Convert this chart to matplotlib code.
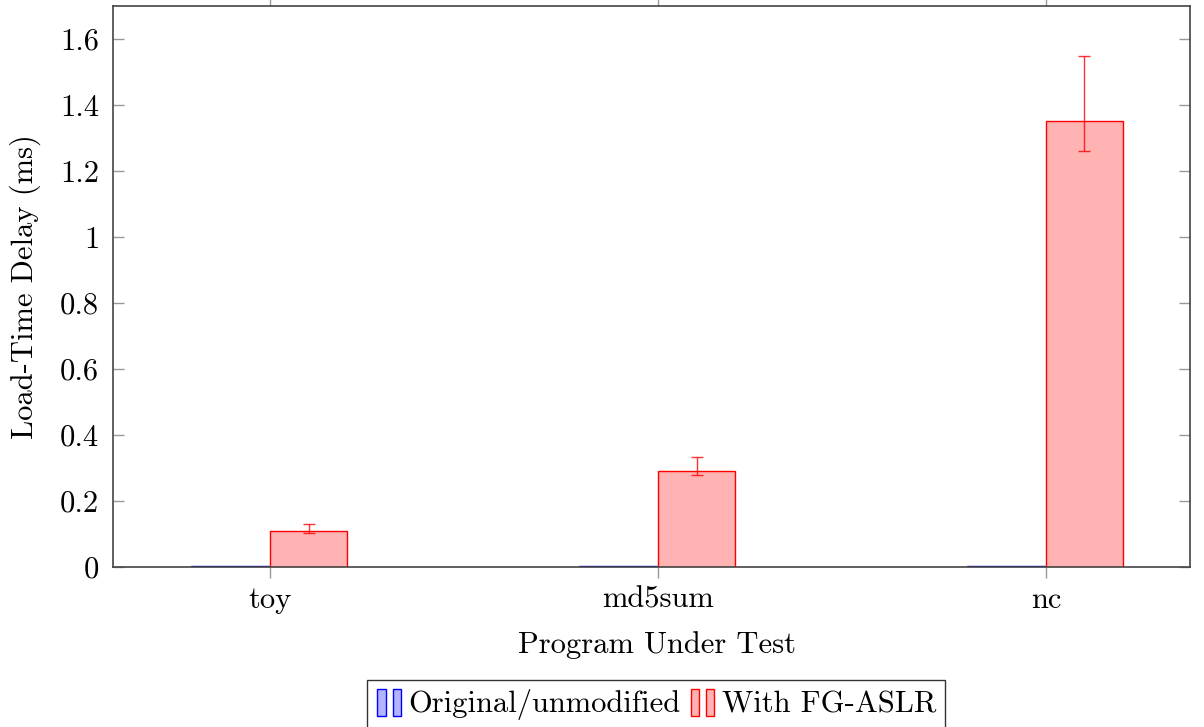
import numpy as np
import matplotlib.pyplot as plt
from matplotlib.patches import Rectangle
from matplotlib.legend_handler import HandlerBase
from matplotlib.ticker import FuncFormatter

plt.rcParams['font.family'] = 'serif'
plt.rcParams['font.serif'] = ['cmr10']
plt.rcParams['mathtext.fontset'] = 'cm'
plt.rcParams['axes.formatter.use_mathtext'] = True

programs = ['toy', 'md5sum', 'nc']
original_ms = [0.002, 0.002, 0.002]
fgaslr_ms = [0.108, 0.292, 1.35]
fgaslr_lo = [0.103, 0.278, 1.262]
fgaslr_hi = [0.130, 0.333, 1.548]
yticks = [0, 0.2, 0.4, 0.6, 0.8, 1.0, 1.2, 1.4, 1.6]

BLUE_FILL = '#b3b3ff'
RED_FILL = '#ffb3b3'
FS = 22


class PairedBars(HandlerBase):
    # pgfplots-style ybar legend: two small bars side by side
    def create_artists(self, legend, orig, xdescent, ydescent, width, height,
                       fontsize, trans):
        patch = orig.patches[0]
        bw = width * 0.3
        h = height * 1.3
        y0 = -ydescent - height * 0.2
        bars = []
        for x0 in (-xdescent + width * 0.05, -xdescent + width * 0.6):
            r = Rectangle((x0, y0), bw, h, facecolor=patch.get_facecolor(),
                          edgecolor=patch.get_edgecolor(), lw=1.0, transform=trans)
            bars.append(r)
        return bars


fig = plt.figure(figsize=(12.04, 7.27), dpi=100)
ax = fig.add_axes([113 / 1204, 1 - 567 / 727, (1190 - 113) / 1204, (567 - 6) / 727])

x = np.arange(len(programs))
w = 0.2
b1 = ax.bar(x - 0.103, original_ms, w, color=BLUE_FILL, edgecolor='blue', lw=1.0,
            label='Original/unmodified')
b2 = ax.bar(x + 0.099, fgaslr_ms, w, color=RED_FILL, edgecolor='red', lw=1.0,
            label='With FG-ASLR')
err = [np.array(fgaslr_ms) - np.array(fgaslr_lo), np.array(fgaslr_hi) - np.array(fgaslr_ms)]
ax.errorbar(x + 0.099, fgaslr_ms, yerr=err, fmt='none', ecolor='red', elinewidth=1.0,
            capsize=4, capthick=1.0, alpha=0.8)

ax.set_xlim(-0.405, 2.371)
ax.set_ylim(0, 1.7)
ax.set_xticks(x)
ax.set_xticklabels(programs)
ax.set_yticks(yticks)
ax.yaxis.set_major_formatter(FuncFormatter(lambda v, p: '%g' % v))

ax.tick_params(axis='x', direction='out', length=8, width=1.0, color='#999999',
               top=True, labelsize=FS, pad=6)
ax.tick_params(axis='y', direction='in', length=8, width=1.0, color='#999999',
               right=True, labelsize=FS, pad=10)
for s in ax.spines.values():
    s.set_color('#444444')
    s.set_linewidth(1.2)

ax.set_xlabel('Program Under Test', fontsize=FS, labelpad=16)
ax.xaxis.set_label_coords(0.505, -0.115)
ax.set_ylabel('Load-Time Delay (ms)', fontsize=FS, labelpad=14)

leg = fig.legend(handles=[b1, b2], labels=['Original/unmodified', 'With FG-ASLR'],
                 loc='upper center', bbox_to_anchor=(656 / 1204, 1 - 680 / 727),
                 ncol=2, fontsize=FS, frameon=True, fancybox=False, edgecolor='black',
                 handler_map={b1: PairedBars(), b2: PairedBars()},
                 handlelength=0.9, handletextpad=0.15, columnspacing=0.3,
                 borderpad=0.3, borderaxespad=0)
leg.get_frame().set_linewidth(1.0)

fig.savefig('out.png', dpi=100)
